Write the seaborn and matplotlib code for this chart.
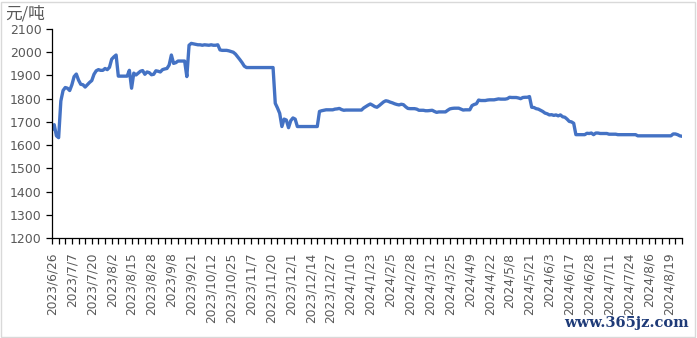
import matplotlib
matplotlib.use("Agg")
import matplotlib.pyplot as plt
import seaborn as sns
import pandas as pd
import numpy as np
from matplotlib.patches import Rectangle

# ---------------- data ----------------
start_date = "2023-06-26"
end_date = "2024-08-27"
closed_days = ["2023-09-29", "2023-10-02", "2023-10-03", "2023-10-04", "2023-10-05",
               "2023-10-06", "2024-01-01", "2024-02-07", "2024-02-08", "2024-02-09",
               "2024-02-12", "2024-02-13", "2024-02-14", "2024-02-15", "2024-02-16",
               "2024-04-04", "2024-04-05", "2024-05-01", "2024-05-02", "2024-05-03",
               "2024-06-10"]

prices = [
    1665, 1688, 1640, 1632, 1790, 1835, 1848, 1845, 1835, 1860,
    1895, 1906, 1880, 1862, 1860, 1850, 1860, 1870, 1878, 1905,
    1920, 1925, 1922, 1922, 1930, 1925, 1935, 1970, 1980, 1988,
    1897, 1897, 1897, 1897, 1897, 1922, 1845, 1910, 1902, 1910,
    1918, 1921, 1905, 1915, 1912, 1903, 1905, 1920, 1918, 1915,
    1925, 1928, 1930, 1945, 1988, 1952, 1955, 1962, 1962, 1962,
    1962, 1895, 2030, 2038, 2036, 2034, 2032, 2032, 2030, 2032,
    2031, 2030, 2032, 2030, 2030, 2032, 2010, 2008, 2008, 2008,
    2006, 2003, 2000, 1992, 1980, 1968, 1955, 1940, 1934, 1934,
    1934, 1934, 1934, 1934, 1934, 1934, 1934, 1934, 1934, 1934,
    1934, 1780, 1760, 1737, 1680, 1712, 1708, 1675, 1705, 1717,
    1712, 1680, 1680, 1680, 1680, 1680, 1680, 1680, 1680, 1680,
    1680, 1745, 1748, 1750, 1752, 1752, 1752, 1752, 1755, 1756,
    1758, 1753, 1750, 1751, 1751, 1751, 1751, 1751, 1751, 1751,
    1751, 1760, 1766, 1772, 1777, 1772, 1766, 1763, 1770, 1778,
    1786, 1791, 1789, 1785, 1782, 1778, 1775, 1773, 1776, 1774,
    1765, 1758, 1757, 1757, 1757, 1755, 1750, 1750, 1750, 1748,
    1748, 1749, 1750, 1745, 1741, 1743, 1743, 1743, 1743, 1750,
    1756, 1758, 1759, 1759, 1759, 1755, 1751, 1752, 1752, 1752,
    1770, 1775, 1778, 1794, 1792, 1792, 1792, 1794, 1795, 1795,
    1795, 1797, 1799, 1798, 1798, 1798, 1800, 1806, 1805, 1805,
    1805, 1803, 1800, 1805, 1806, 1806, 1809, 1763, 1762, 1757,
    1755, 1750, 1745, 1738, 1735, 1730, 1731, 1728, 1730, 1726,
    1730, 1722, 1720, 1712, 1702, 1700, 1694, 1645, 1645, 1645,
    1645, 1645, 1651, 1650, 1652, 1645, 1652, 1652, 1650, 1650,
    1650, 1650, 1647, 1647, 1647, 1647, 1645, 1645, 1645, 1645,
    1645, 1645, 1645, 1645, 1645, 1640, 1640, 1640, 1640, 1640,
    1640, 1640, 1640, 1640, 1640, 1640, 1640, 1640, 1640, 1640,
    1640, 1648, 1648, 1645, 1640, 1638,
]
y_ticks = [1200, 1300, 1400, 1500, 1600, 1700, 1800, 1900, 2000, 2100]
unit_label = "元/吨"
watermark = "www.365jz.com"

# trading-day categories
all_days = pd.bdate_range(start_date, end_date)
days = all_days[~all_days.isin(pd.to_datetime(closed_days))]
days = list(days)[:len(prices)]
date_labels = [f"{d.year}/{d.month}/{d.day}" for d in days]

df = pd.DataFrame({"idx": np.arange(len(prices)), "price": prices, "date": date_labels})

# ---------------- style ----------------
sns.set_style("white")
plt.rcParams["font.family"] = ["DejaVu Sans", "Noto Sans CJK SC"]

W, H = 697, 338
fig = plt.figure(figsize=(W / 100, H / 100), dpi=100)
ax = fig.add_axes([52 / W, (H - 238) / H, (682 - 52) / W, (238 - 29) / H])

sns.lineplot(data=df, x="idx", y="price", ax=ax, color="#4472C4", linewidth=2.4)

n = len(prices)
ax.set_xlim(0, n - 1)
ax.set_ylim(1200, 2100)
ax.set_yticks(y_ticks)
ax.set_yticklabels([str(v) for v in y_ticks])

tick_pos = list(range(0, n, 3))
ax.set_xticks(tick_pos)
ax.set_xticklabels([date_labels[i] if i % 9 == 0 else "" for i in tick_pos],
                   rotation=90, ha="center", va="top")

ax.set_xlabel("")
ax.set_ylabel("")
for s in ["top", "right"]:
    ax.spines[s].set_visible(False)
for s in ["left", "bottom"]:
    ax.spines[s].set_color("#000000")
    ax.spines[s].set_linewidth(0.9)

ax.tick_params(axis="y", direction="out", length=4, width=0.9, color="#000000",
               labelsize=9, labelcolor="#595959", pad=3.5, left=True)
ax.tick_params(axis="x", direction="out", length=4, width=0.9, color="#000000",
               labelsize=8.8, labelcolor="#595959", pad=6.5, bottom=True)
ax.grid(False)

fig.text(5 / W, 1 - 5.5 / H, unit_label, ha="left", va="top", fontsize=12,
         color="#595959", family=["Noto Sans CJK SC", "DejaVu Sans"])

fig.text(689 / W, 1 - 330 / H, watermark, ha="right", va="bottom", fontsize=10.5,
         color="#1F3B78", family="DejaVu Serif", fontweight="bold")

fig.patches.append(Rectangle((1 / W, 1 / H), (695 - 1) / W, (336 - 1) / H,
                             transform=fig.transFigure, fill=False,
                             edgecolor="#D9D9D9", linewidth=1))

fig.savefig("out.png", dpi=100)
